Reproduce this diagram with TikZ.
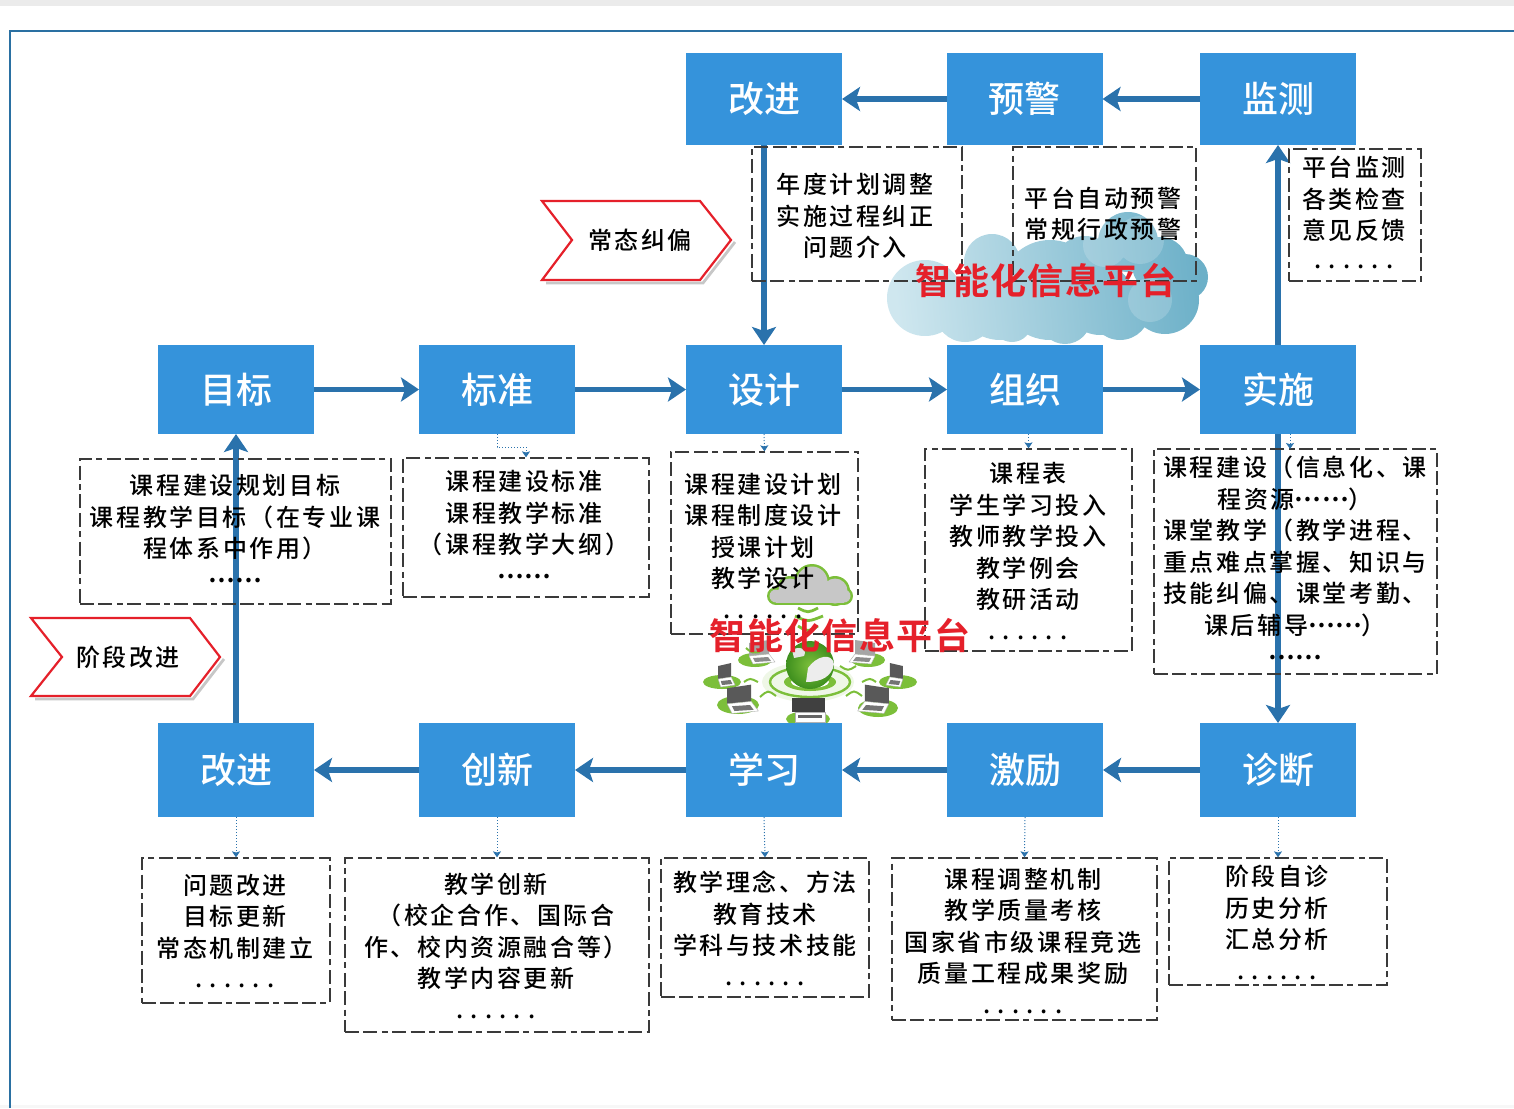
\documentclass[tikz,border=0pt]{standalone}
\usepackage{fontspec}
\usetikzlibrary{arrows.meta,calc}
\setmainfont{Noto Sans CJK SC}
\newfontfamily\cjk[LetterSpace=11]{Noto Sans CJK SC Medium}
\newfontfamily\cjkt[LetterSpace=0]{Noto Sans CJK SC Medium}
\newfontfamily\cjkb[LetterSpace=4]{Noto Sans CJK SC Bold}
\definecolor{boxblue}{HTML}{3593DB}
\definecolor{arrblue}{HTML}{2A72AC}
\definecolor{frameblue}{HTML}{2A70A2}
\definecolor{dashgrey}{HTML}{3A3A3A}
\definecolor{alarm}{HTML}{E5202A}
\definecolor{leaf}{HTML}{7CBF3A}
\definecolor{leafd}{HTML}{3E8F1E}
\definecolor{cloudl}{HTML}{CFE7EF}
\definecolor{cloudr}{HTML}{6CB0C8}
\tikzset{
  bluebox/.style={fill=boxblue,text=white,minimum width=78pt,minimum height=46pt,inner sep=0pt,outer sep=0pt,font=\cjkt\fontsize{18}{20}\selectfont},
  flow/.style={draw=arrblue,line width=2.6pt,-{Stealth[length=9pt,width=12pt,inset=2pt]}},
  hint/.style={draw=arrblue,line width=0.5pt,densely dotted,-{Stealth[length=3pt,width=4pt,inset=0.6pt]}},
  frame/.style={draw=dashgrey,line width=0.65pt,dash pattern=on 7pt off 2.2pt on 7pt off 2.2pt on 3pt off 2.2pt,inner sep=0pt},
  dtext/.style={align=center,inner sep=0pt,text=black,font=\cjk\fontsize{12}{15.75}\selectfont},
  alarmtext/.style={text=alarm,inner sep=0pt,font=\cjkb\fontsize{18}{20}\selectfont},
  tagline/.style={draw=alarm,line width=1.1pt,fill=white},
  tagshadow/.style={draw=black!22,line width=1.4pt},
  tagtext/.style={inner sep=0pt,font=\cjk\fontsize{12}{14}\selectfont},
  wifi/.style={draw=leaf,line width=1pt},
  laptop/.pic={
    \fill[black!65] (-9,-1) -- (-9,-14) -- (11,-17) -- (11,-3) -- cycle;
    \fill[white,draw=black!30,line width=.2pt] (-9,-1) -- (11,-3) -- (17,5) -- (-5,7) -- cycle;
    \fill[black!55] (-5,1) -- (10,0) -- (13,4) -- (-3,5) -- cycle;
  },
  laptopg/.pic={
    \fill[black!35] (-9,-1) -- (-9,-14) -- (11,-17) -- (11,-3) -- cycle;
    \fill[white,draw=black!30,line width=.2pt] (-9,-1) -- (11,-3) -- (17,5) -- (-5,7) -- cycle;
    \fill[black!45] (-5,1) -- (10,0) -- (13,4) -- (-3,5) -- cycle;
  }
}
\newcommand{\gapdots}{\raisebox{3.5pt}[0pt][0pt]{.\hspace{3.6pt}.\hspace{3.6pt}.\hspace{3.6pt}.\hspace{3.6pt}.\hspace{3.6pt}.}}
\newcommand{\middots}{\raisebox{3.2pt}[0pt][0pt]{\cjkb ……}}
\begin{document}
\begin{tikzpicture}[x=0.5pt,y=-0.5pt]
\useasboundingbox (0,0) rectangle (1514,1108);
\fill[black!8] (0,0) rectangle (1514,6);
\fill[black!3] (0,1105) rectangle (1514,1108);
\draw[frameblue,line width=1.4pt] (10,1108) -- (10,31) -- (1514,31);

% cloud behind the upper detail boxes
\shade[left color=cloudl,right color=cloudr,shading angle=95]
  (925,298) circle[radius=38] (965,312) circle[radius=30] (1000,296) circle[radius=44]
  (992,262) circle[radius=28] (1050,290) circle[radius=50] (1085,268) circle[radius=32]
  (1128,242) circle[radius=30] (1160,265) circle[radius=28] (1185,277) circle[radius=23]
  (1165,300) circle[radius=34] (1120,310) circle[radius=30] (1065,318) circle[radius=26]
  (1012,322) circle[radius=20] (1100,300) circle[radius=35];
\fill[white,opacity=.18] (1105,245) circle[radius=22] (1140,240) circle[radius=24] (1150,300) circle[radius=22];

% network illustration
\fill[leaf!12] (808,682) ellipse[x radius=46,y radius=20];
\draw[leaf,line width=1.2pt] (810,682) ellipse[x radius=40,y radius=15];
\fill[leaf] (810,682) ellipse[x radius=26,y radius=9];
\fill[white] (810,682) ellipse[x radius=19,y radius=6];
\foreach \ex/\ey/\rx/\ry in {755/660/17/7,722/682/19/7,738/705/21/9,808/719/22/8,878/708/20/9,898/682/19/7,868/660/17/7}
  \fill[leaf] (\ex,\ey) ellipse[x radius=\rx,y radius=\ry];
\path (758,657) pic[scale=1]{laptopg};
\path (724,680) pic[scale=1,xscale=.65]{laptop};
\path (738,705) pic[scale=1.2]{laptop};
\path (866,657) pic[scale=1,xscale=-1]{laptopg};
\path (897,680) pic[scale=1,xscale=-.65]{laptop};
\path (878,705) pic[scale=1.2,xscale=-1]{laptop};
\fill[black!75] (792,698) rectangle (825,712);
\fill[white,draw=black!30,line width=.2pt] (795,712) rectangle (825,722);
\fill[black!60] (798,715) rectangle (822,718);
\shade[inner color=leaf,outer color=leafd] (810,665) circle[radius=24];
\fill[black!7] (808,668) .. controls (816,656) and (832,652) .. (834,664) .. controls (832,676) and (822,682) .. (806,682) -- cycle;
\fill[black!10] (792,650) .. controls (798,646) and (808,648) .. (804,656) -- (794,658) -- cycle;
\draw[wifi] (746,648) .. controls (752,653) .. (760,652);
\draw[wifi] (744,682) .. controls (750,678) .. (758,682);
\draw[wifi] (760,697) .. controls (768,690) .. (776,696);
\draw[wifi] (840,666) .. controls (848,671) .. (856,666);
\draw[wifi] (862,682) .. controls (870,678) .. (876,682);
\draw[wifi] (846,696) .. controls (854,690) .. (862,696);
\draw[wifi,line width=1.4pt] (798,608) .. controls (808,613) .. (818,608);
\draw[wifi,line width=1.4pt] (795,616) .. controls (808,622) .. (823,616);
\draw[wifi,line width=1.4pt] (798,626) .. controls (808,632) .. (818,626);
% small green cloud
\fill[leaf] (790,590) circle[radius=14] (812,582) circle[radius=18] (835,591) circle[radius=15] (776,596) circle[radius=9] (844,596) circle[radius=9];
\fill[leaf] (776,590) rectangle (844,605);
\fill[black!22] (790,590) circle[radius=11.5] (812,582) circle[radius=15.5] (835,591) circle[radius=12.5] (776,596) circle[radius=6.5] (844,596) circle[radius=6.5];
\fill[black!22] (776,590) rectangle (844,602.5);

% main boxes
\node[bluebox] (gaiA) at (764,99) {改进};
\node[bluebox] (yujing) at (1024.5,99) {预警};
\node[bluebox] (jiance) at (1278,99) {监测};
\node[bluebox,minimum height=44.5pt] (mubiao) at (236,389.5) {目标};
\node[bluebox,minimum height=44.5pt] (biaozhun) at (497,389.5) {标准};
\node[bluebox,minimum height=44.5pt] (sheji) at (764,389.5) {设计};
\node[bluebox,minimum height=44.5pt] (zuzhi) at (1025,389.5) {组织};
\node[bluebox,minimum height=44.5pt] (shishi) at (1278,389.5) {实施};
\node[bluebox,minimum height=47pt] (gaiB) at (236,770) {改进};
\node[bluebox,minimum height=47pt] (chuangxin) at (497,770) {创新};
\node[bluebox,minimum height=47pt] (xuexi) at (764,770) {学习};
\node[bluebox,minimum height=47pt] (jili) at (1025,770) {激励};
\node[bluebox,minimum height=47pt] (zhenduan) at (1278,770) {诊断};

% main flow
\draw[flow] (jiance) -- (yujing);
\draw[flow] (yujing) -- (gaiA);
\draw[flow] (gaiA) -- (sheji);
\draw[flow] (mubiao) -- (biaozhun);
\draw[flow] (biaozhun) -- (sheji);
\draw[flow] (sheji) -- (zuzhi);
\draw[flow] (zuzhi) -- (shishi);
\draw[flow] (shishi) -- (jiance);
\draw[flow] (shishi) -- (zhenduan);
\draw[flow] (zhenduan) -- (jili);
\draw[flow] (jili) -- (xuexi);
\draw[flow] (xuexi) -- (chuangxin);
\draw[flow] (chuangxin) -- (gaiB);
\draw[flow] (gaiB) -- (mubiao);

% detail frames
\node[frame,minimum width=105pt,minimum height=67pt] (fa) at (857,214) {};
\node[frame,minimum width=91.5pt,minimum height=67pt] (fb) at (1104.5,214) {};
\node[frame,minimum width=66pt,minimum height=66pt] (fc) at (1355,215) {};
\node[frame,minimum width=155.5pt,minimum height=72.5pt] (fd) at (235.5,531.5) {};
\node[frame,minimum width=123pt,minimum height=69.5pt] (fe) at (526,527.5) {};
\node[frame,minimum width=93.5pt,minimum height=91pt] (ff) at (764.5,543) {};
\node[frame,minimum width=103.5pt,minimum height=101pt] (fg) at (1028.5,550) {};
\node[frame,minimum width=141.5pt,minimum height=112.5pt] (fh) at (1295.5,561.5) {};
\node[frame,minimum width=94pt,minimum height=72.5pt] (fi) at (236,930.5) {};
\node[frame,minimum width=152pt,minimum height=87pt] (fj) at (497,945) {};
\node[frame,minimum width=104pt,minimum height=69.5pt] (fk) at (765,927.5) {};
\node[frame,minimum width=132.5pt,minimum height=81pt] (fl) at (1024.5,939) {};
\node[frame,minimum width=109pt,minimum height=63.5pt] (fm) at (1278,921.5) {};

% detail texts
\node[dtext] (ta) at (855,216) {年度计划调整\\实施过程纠正\\问题介入};
\node[dtext] (tb) at (1103,214) {平台自动预警\\常规行政预警};
\node[dtext] (tc) at (1354,216) {平台监测\\各类检查\\意见反馈\\[2pt]\gapdots};
\node[dtext] (td) at (235,532) {课程建设规划目标\\课程教学目标（在专业课\\程体系中作用）\\\middots};
\node[dtext] (te) at (524,528) {课程建设标准\\课程教学标准\\（课程教学大纲）\\\middots};
\node[dtext] (tf) at (763,549) {课程建设计划\\课程制度设计\\授课计划\\教学设计\\[3pt]\gapdots};
\node[dtext] (tg) at (1028,554.5) {课程表\\学生学习投入\\教师教学投入\\教学例会\\教研活动\\[3pt]\gapdots};
\node[dtext] (th) at (1295,561) {课程建设（信息化、课\\程资源\middots）\\课堂教学（教学进程、\\重点难点掌握、知识与\\技能纠偏、课堂考勤、\\课后辅导\middots）\\\middots};
\node[dtext] (ti) at (235,934.5) {问题改进\\目标更新\\常态机制建立\\[3pt]\gapdots};
\node[dtext] (tj) at (496,949) {教学创新\\（校企合作、国际合\\作、校内资源融合等）\\教学内容更新\\[3pt]\gapdots};
\node[dtext] (tk) at (765,931.5) {教学理念、方法\\教育技术\\学科与技术技能\\[3pt]\gapdots};
\node[dtext] (tl) at (1023,944) {课程调整机制\\教学质量考核\\国家省市级课程竞选\\质量工程成果奖励\\[3pt]\gapdots};
\node[dtext] (tm) at (1277,925.5) {阶段自诊\\历史分析\\汇总分析\\[3pt]\gapdots};

% dotted hints
\draw[hint] (biaozhun.south) -- ++(0,13) -| (fe.north);
\draw[hint] (sheji.south) -- (ff.north);
\draw[hint] (fg.north |- zuzhi.south) -- (fg.north);
\coordinate (shishiOut) at (1290,434);
\coordinate (shishiIn) at (1290,449);
\draw[hint] (shishiOut) -- (shishiIn);
\draw[hint] (gaiB.south) -- (fi.north);
\draw[hint] (chuangxin.south) -- (fj.north);
\draw[hint] (xuexi.south) -- (fk.north);
\draw[hint] (jili.south) -- (fl.north);
\draw[hint] (zhenduan.south) -- (fm.north);

% red tags
\draw[tagshadow] (546,283) -- (703,283) -- (735,242);
\draw[tagline] (542,201) -- (700,201) -- (731,240) -- (700,280) -- (542,280) -- (572,240) -- cycle;
\node[tagtext] (taga) at (640,240) {常态纠偏};
\draw[tagshadow] (35,699) -- (193,699) -- (224,659);
\draw[tagline] (31,618) -- (190,618) -- (220,657) -- (190,696) -- (31,696) -- (62,657) -- cycle;
\node[tagtext] (tagb) at (128,657) {阶段改进};

% red labels
\node[alarmtext] (pa) at (1046,281) {智能化信息平台};
\node[alarmtext] (pb) at (840,636) {智能化信息平台};
\end{tikzpicture}
\end{document}
